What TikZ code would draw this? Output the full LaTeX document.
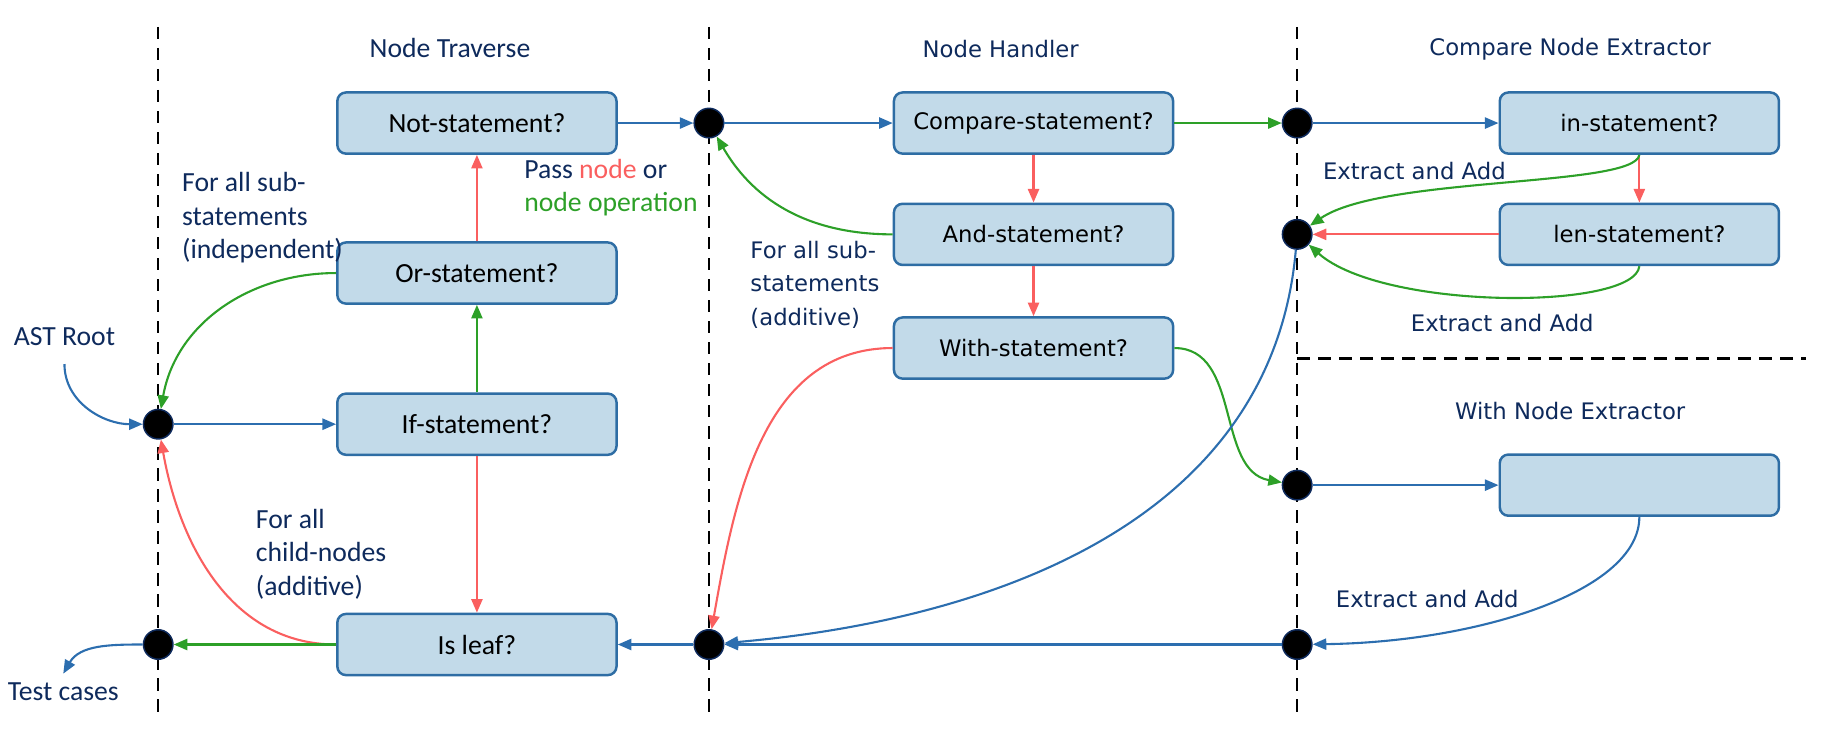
\documentclass[tikz,border=0pt]{standalone}
\usepackage{fontspec}
\setmainfont{Carlito}
\newfontfamily\vfont{DejaVu Sans}
\usetikzlibrary{arrows.meta}
\definecolor{boxfill}{RGB}{194,218,233}
\definecolor{boxline}{RGB}{46,109,164}
\definecolor{arblue}{RGB}{44,110,175}
\definecolor{arred}{RGB}{250,95,95}
\definecolor{argreen}{RGB}{45,160,40}
\definecolor{navy}{RGB}{14,42,92}

\begin{document}
\begin{tikzpicture}[x=0.01667cm, y=-0.01667cm,
    lane/.style={line width=1pt, dash pattern=on 5pt off 3.5pt},
    stmt/.style={draw=boxline, fill=boxfill, rounded corners=3.5pt, line width=1pt,
        minimum width=3.97cm, minimum height=0.87cm, inner sep=0pt},
    lstmt/.style={stmt, font=\fontsize{11.2}{13.5}\selectfont},
    rstmt/.style={stmt, font=\vfont\fontsize{9.2}{11}\selectfont},
    joint/.style={circle, fill=black, draw=navy, line width=0.6pt, inner sep=0pt, minimum size=4.2mm},
    lbl/.style={text=navy, font=\fontsize{11.2}{13.6}\selectfont},
    vlbl/.style={text=navy, font=\vfont\fontsize{9.2}{13.7}\selectfont},
    tip/.style={-{Triangle[length=5.5pt,width=4.5pt]}, line width=0.85pt},
    blu/.style={tip, color=arblue},
    rd/.style={tip, color=arred},
    gr/.style={tip, color=argreen}]
\useasboundingbox (0,0) rectangle (1560,636);
% lanes
\foreach \x in {135,605,1107}{
    \draw[lane] (\x,23) -- (\x,613);
}
\draw[lane] (1107,306) -- (1541,306);
% titles
\node[lbl] (ttrav) at (384,41) {Node Traverse};
\node[vlbl] (thand) at (854,42) {Node Handler};
\node[vlbl] (tcmp) at (1340,42) {Compare Node Extractor};
\node[vlbl] (twith) at (1340,351) {With Node Extractor};
% boxes
\node[lstmt] (notst) at (407,105) {Not-statement?};
\node[lstmt] (orst) at (407,233) {Or-statement?};
\node[lstmt] (ifst) at (407,362) {If-statement?};
\node[lstmt] (leaf) at (407,550) {Is leaf?};
\node[rstmt] (cmpst) at (882,105) {Compare-statement?};
\node[rstmt] (andst) at (882,200) {And-statement?};
\node[rstmt] (withst) at (882,297) {With-statement?};
\node[rstmt] (inst) at (1399,105) {in-statement?};
\node[rstmt] (lenst) at (1399,200) {len-statement?};
\node[rstmt] (wext) at (1399,414) {};
% joints
\node[joint] (j1) at (135,362) {};
\node[joint] (j2) at (135,550) {};
\node[joint] (h1) at (605,105) {};
\node[joint] (h2) at (605,550) {};
\node[joint] (e1) at (1107,105) {};
\node[joint] (e2) at (1107,200) {};
\node[joint] (e3) at (1107,414) {};
\node[joint] (e4) at (1107,550) {};
% labels
\node[lbl] (ast) at (55,287) {AST Root};
\node[lbl] (tc) at (54,590) {Test cases};
\node[lbl, anchor=west, align=left] (indep) at (148,186) {For all sub-\\statements\\(independent)};
\node[lbl, anchor=west, align=left] (pass) at (440,160) {Pass \textcolor{arred}{node} or\\\textcolor{argreen}{node operation}};
\node[lbl, anchor=west, align=left] (child) at (211,473) {For all\\child-nodes\\(additive)};
\node[vlbl, anchor=west, align=left] (addit) at (633,243) {For all sub-\\statements\\(additive)};
\node[vlbl] (ex1) at (1207,146) {Extract and Add};
\node[vlbl] (ex2) at (1282,276) {Extract and Add};
\node[vlbl] (ex3) at (1218,511) {Extract and Add};
% node traverse
\draw[blu] ([yshift=-4pt]ast.south) to[out=-90, in=180] (j1);
\draw[blu] (j1) -- (ifst);
\draw[gr] (ifst) -- (orst);
\draw[rd] (orst) -- (notst);
\draw[rd] (ifst) -- (leaf);
\draw[gr] (orst.west) to[out=180, in=80] (j1);
\draw[rd] (leaf.west) to[out=180, in=-80] (j1);
\draw[gr] (leaf) -- (j2);
\draw[blu] (j2) to[out=180, in=60] (tc.north);
\draw[blu] (notst) -- (h1);
% node handler
\draw[blu] (h1) -- (cmpst);
\draw[rd] (cmpst) -- (andst);
\draw[rd] (andst) -- (withst);
\draw[gr] (andst.west) to[out=180, in=-60] (h1);
\draw[rd] (withst.west) to[out=180, in=80] (h2);
\draw[gr] (withst.east) to[out=0, in=170] (e3);
\draw[gr] (cmpst) -- (e1);
\draw[blu] (h2) -- (leaf);
% extractors
\draw[blu] (e1) -- (inst);
\draw[rd] (inst) -- (lenst);
\draw[rd] (lenst) -- (e2);
\draw[gr] (inst.south) .. controls (1395,160) and (1180,150) .. (e2);
\draw[gr] (lenst.south) .. controls (1395,265) and (1180,265) .. (e2);
\draw[blu] (e2) to[out=-95, in=5] (h2);
\draw[blu] (e3) -- (wext);
\draw[blu] (wext.south) .. controls (1399,505) and (1260,548) .. (e4);
\draw[blu] (e4) -- (h2);
\end{tikzpicture}
\end{document}
